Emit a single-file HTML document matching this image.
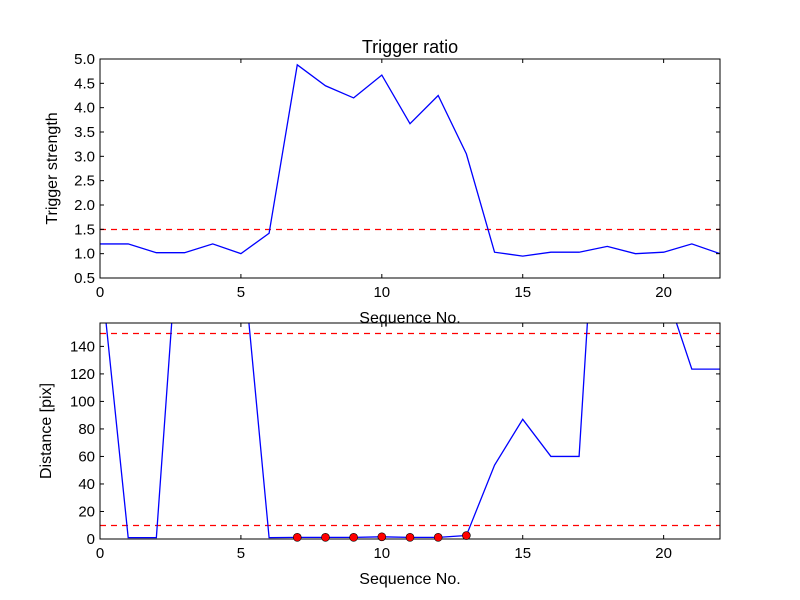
<!DOCTYPE html>
<html><head><meta charset="utf-8"><style>body{margin:0;background:#fff}svg{display:block;font-family:"Liberation Sans","DejaVu Sans",sans-serif}</style></head>
<body>
<svg id="c" width="800" height="600"></svg>
<script>
const xs = [0,1,2,3,4,5,6,7,8,9,10,11,12,13,14,15,16,17,18,19,20,21,22];
const ratioValues = [1.2,1.2,1.02,1.02,1.2,1.0,1.42,4.88,4.45,4.2,4.67,3.67,4.25,3.05,1.03,0.95,1.03,1.03,1.15,1.0,1.03,1.2,1.0];
const distValues = [200,1,1,288,300,219,1,1.2,1.2,1.2,1.6,1.2,1.2,2.5,53.7,87,60,60,390,400,185,123.5,123.5];
const markerIdx = [7,8,9,10,11,12,13];
const xTicks = [0,5,10,15,20];
const topTicks = [0.5,1.0,1.5,2.0,2.5,3.0,3.5,4.0,4.5,5.0];
const botTicks = [0,20,40,60,80,100,120,140];
const ratioThreshold = [1.5];
const distThresholds = [10,150];
const NS='http://www.w3.org/2000/svg', svg=document.getElementById('c');
function el(t,a,p){const e=document.createElementNS(NS,t);for(const k in a)e.setAttribute(k,a[k]);(p||svg).appendChild(e);return e;}
const L=100,R=720;
const X=v=>L+(v-0)/(22-0)*(R-L);
function panel(top,bot,ymin,ymax,yt,vals,thr,ylabel,name,fmt,ylx){
  const Y=v=>bot-(v-ymin)/(ymax-ymin)*(bot-top);
  const g=el('g',{});
  const cp='cp'+name;const d=el('clipPath',{id:cp},g);el('rect',{x:L,y:top,width:R-L,height:bot-top},d);
  thr.forEach(t=>{const yy=Math.round(Y(t))+0.5;const l=el('line',{x1:L,x2:R,y1:yy,y2:yy,stroke:'#f00','stroke-width':1.3,'stroke-dasharray':'6,5'},g);});
  const p=el('polyline',{points:vals.map((v,i)=>X(xs[i])+','+Y(v)).join(' '),fill:'none',stroke:'#00f','stroke-width':1.3,'clip-path':'url(#'+cp+')'},g);
  
  el('rect',{x:L,y:top,width:R-L,height:bot-top,fill:'none',stroke:'#000','stroke-width':1},g);
  xTicks.forEach(t=>{const x=X(t);el('line',{x1:x,x2:x,y1:bot,y2:bot-4,stroke:'#000'},g);el('line',{x1:x,x2:x,y1:top,y2:top+4,stroke:'#000'},g);
    const tx=el('text',{x:x,y:bot+19,'text-anchor':'middle','font-size':15},g);tx.textContent=t;});
  yt.forEach(t=>{const y=Y(t);el('line',{x1:L,x2:L+4,y1:y,y2:y,stroke:'#000'},g);el('line',{x1:R,x2:R-4,y1:y,y2:y,stroke:'#000'},g);
    const tx=el('text',{x:L-5,y:y+5,'text-anchor':'end','font-size':15},g);tx.textContent=fmt(t);});
  const xl=el('text',{x:(L+R)/2,y:bot+45,'text-anchor':'middle','font-size':16},g);xl.textContent='Sequence No.';
  const cy=(top+bot)/2;const yl=el('text',{x:0,y:0,'text-anchor':'middle','font-size':16,transform:'translate('+ylx+','+cy+') rotate(-90)'},g);yl.textContent=ylabel;
  return Y;
}
const t=el('text',{x:410,y:53,'text-anchor':'middle','font-size':18});t.textContent='Trigger ratio';


panel(59,278,0.5,5.0,topTicks,ratioValues,ratioThreshold,'Trigger strength','top-panel',v=>v.toFixed(1),57);
const Y2=panel(323,539,0,157,botTicks,distValues,distThresholds,'Distance [pix]','bottom-panel',v=>String(v),51);
markerIdx.forEach(i=>{const c=el('circle',{cx:X(xs[i]),cy:Y2(distValues[i]),r:4,fill:'#f00',stroke:'#000','stroke-width':0.6});

});
</script>
</body></html>
